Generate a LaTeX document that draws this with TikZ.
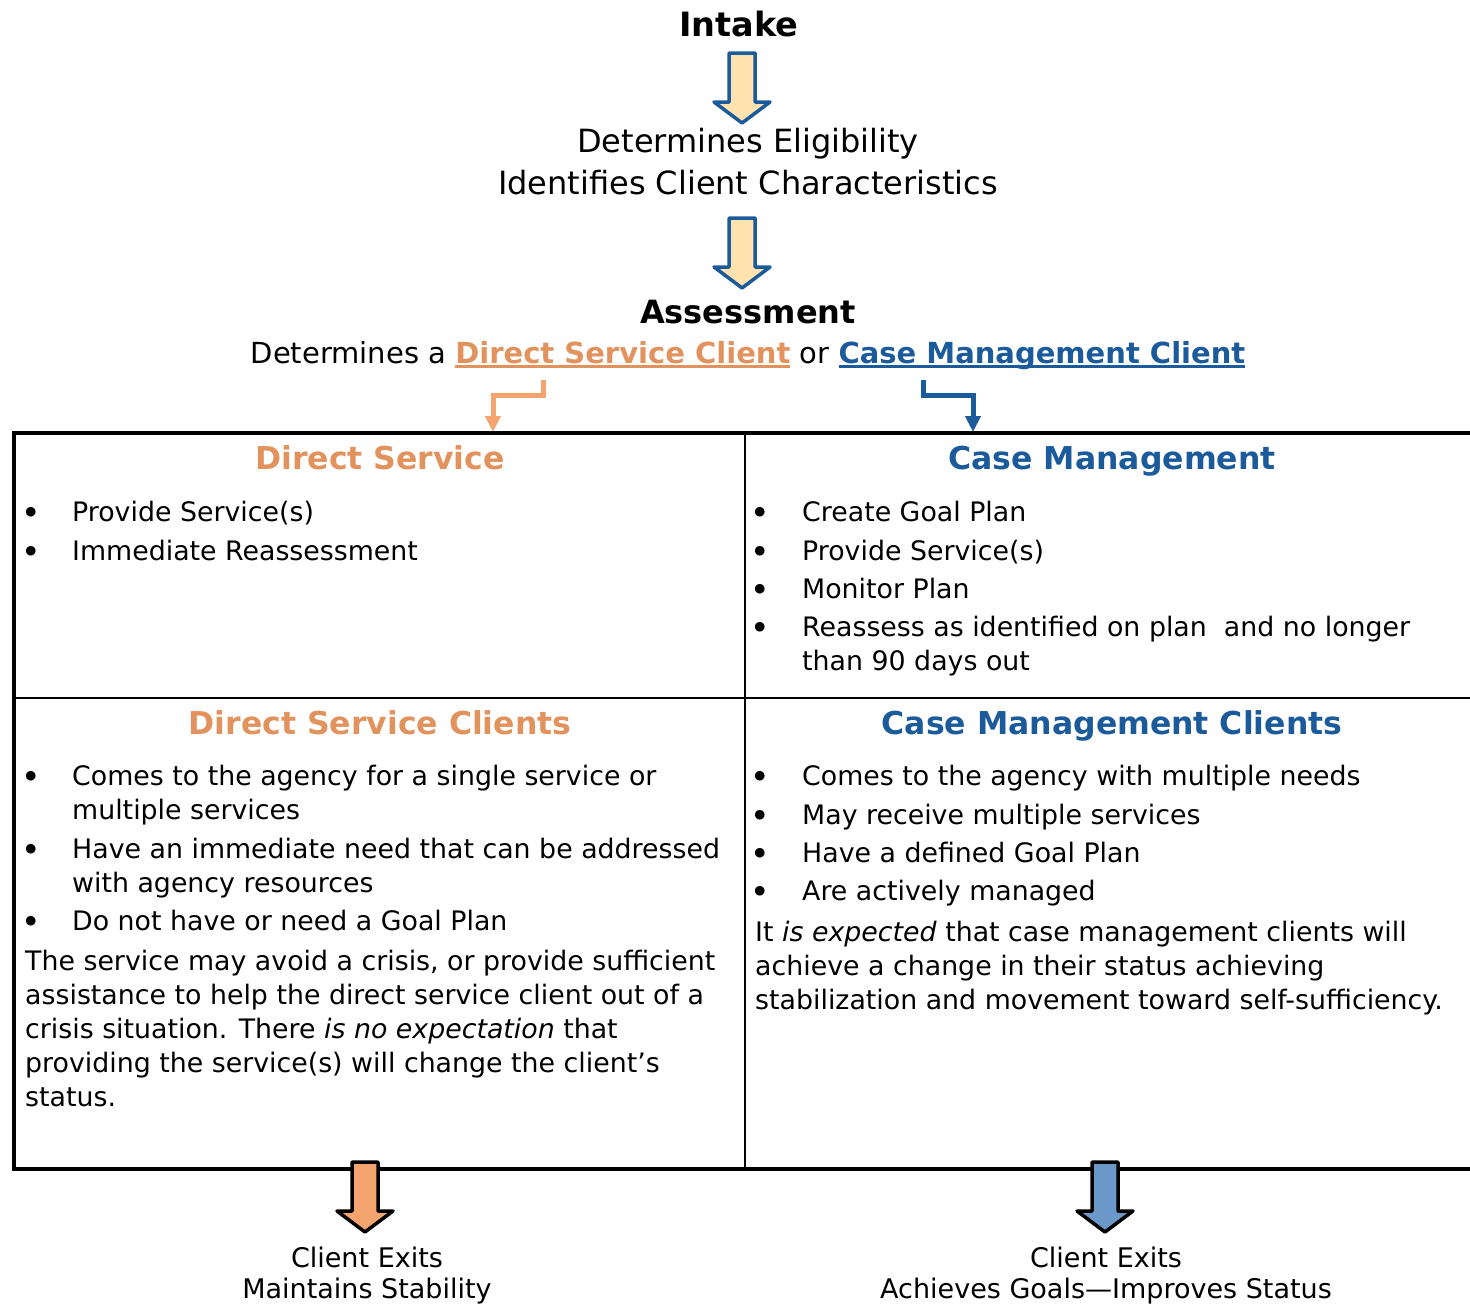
\documentclass[tikz,border=0pt]{standalone}
\usepackage{fontspec}
\setmainfont{DejaVu Sans}
\usetikzlibrary{positioning, calc}
\usetikzlibrary{arrows.meta}
\newcommand{\ulbox}[1]{\setbox0\hbox{#1}\rlap{\rule[-4.5pt]{\wd0}{2.2pt}}\box0}
\definecolor{dsorange}{HTML}{E2925C}
\definecolor{dsarrow}{HTML}{F4A46E}
\definecolor{cmblue}{HTML}{1B5A9B}
\definecolor{cmfill}{HTML}{6A99C9}
\definecolor{peach}{HTML}{FFE2AD}
\tikzstyle{titletext}=[inner sep=0pt, anchor=base, font=\fontsize{33.5}{38}\selectfont\bfseries]
\tikzstyle{leadtext}=[inner sep=0pt, anchor=base, align=center, font=\fontsize{32}{42}\selectfont]
\tikzstyle{headtext}=[inner sep=0pt, anchor=base, font=\fontsize{31.5}{36}\selectfont\bfseries]
\tikzstyle{bodytext}=[inner sep=0pt, anchor=base west, align=left, font=\fontsize{26.8}{34}\selectfont]
\tikzstyle{bulletmark}=[inner sep=0pt, anchor=base, font=\fontsize{33}{34}\selectfont]
\tikzstyle{exittext}=[inner sep=0pt, anchor=base, align=center, font=\fontsize{27}{31}\selectfont]
\tikzstyle{gridline}=[line width=4.5pt]
\tikzstyle{thingrid}=[line width=2.5pt]
\tikzstyle{bentpath}=[line width=5pt, -{Triangle[width=15pt,length=16pt]}]
\tikzstyle{blockarrow}=[line width=3.5pt, line join=round]
\tikzset{downblock/.pic={
    \draw[pic actions] (-13,0) -- (13,0) -- (13,49) -- (28,49) -- (0,70)
        -- (-28,49) -- (-13,49) -- cycle;}}

\begin{document}
\begin{tikzpicture}[x=1pt, y=-1pt]
    \useasboundingbox (0,0) rectangle (1470,1304);

    % intake and assessment (multi-line nodes sit on their last baseline)
    \node[titletext] (intake) at (739,36) {Intake};
    \node[leadtext] (elig) at (748,194) {Determines Eligibility\\Identifies Client Characteristics};
    \node[titletext, font=\fontsize{32}{38}\selectfont\bfseries] (assess) at (748,323) {Assessment};
    \node[inner sep=0pt, anchor=base, font=\fontsize{29}{34}\selectfont] (choice) at (748,363)
        {Determines a \textcolor{dsorange}{\bfseries\ulbox{Direct Service Client}} or
         \textcolor{cmblue}{\bfseries\ulbox{Case Management Client}}};

    \pic[blockarrow, draw=cmblue, fill=peach] at (742,53) {downblock};
    \pic[blockarrow, draw=cmblue, fill=peach] at (742,218) {downblock};

    \coordinate (dsfrom) at (543,380);
    \coordinate (dsto) at (493,432);
    \coordinate (cmfrom) at (923,380);
    \coordinate (cmto) at (973,432);
    \draw[bentpath, dsarrow] (dsfrom) -- ++(0,15) -| (dsto);
    \draw[bentpath, cmblue] (cmfrom) -- ++(0,15) -| (cmto);

    % grid
    \draw[gridline] (12,433) -- (1470,433);
    \draw[gridline] (12,1169) -- (1470,1169);
    \draw[gridline] (14,433) -- (14,1169);
    \draw[thingrid] (745,433) -- (745,1169);
    \draw[thingrid] (14,698) -- (1470,698);

    % headings
    \node[headtext, dsorange] (dshead) at (380,469) {Direct Service};
    \node[headtext, cmblue] (cmhead) at (1112,469) {Case Management};
    \node[headtext, dsorange] (dsclients) at (380,734) {Direct Service Clients};
    \node[headtext, cmblue] (cmclients) at (1112,734) {Case Management Clients};

    % bullets
    \foreach \y in {524,563,788,861,933}
        \node[bulletmark] at (31,\y) {\textbullet};
    \foreach \y in {524,563,601,639,788,827,865,903}
        \node[bulletmark] at (760,\y) {\textbullet};

    % direct service
    \node[bodytext] (dsa) at (72,521) {Provide Service(s)};
    \node[bodytext] (dsb) at (72,560) {Immediate Reassessment};

    % case management
    \node[bodytext] (cma) at (802,521) {Create Goal Plan};
    \node[bodytext] (cmb) at (802,560) {Provide Service(s)};
    \node[bodytext] (cmc) at (802,598) {Monitor Plan};
    \node[bodytext] (cmd) at (802,670) {Reassess as identified on plan\ \ and no longer\\than 90 days out};

    % direct service clients
    \node[bodytext] (dca) at (72,819) {Comes to the agency for a single service or\\multiple services};
    \node[bodytext] (dcb) at (72,892) {Have an immediate need that can be addressed\\with agency resources};
    \node[bodytext] (dcc) at (72,930) {Do not have or need a Goal Plan};
    \node[bodytext] (dcnote) at (25,1106) {The service may avoid a crisis, or provide sufficient\\
        assistance to help the direct service client out of a\\
        crisis situation. There \textit{is no expectation} that\\
        providing the service(s) will change the client’s\\
        status.};

    % case management clients
    \node[bodytext] (cca) at (802,785) {Comes to the agency with multiple needs};
    \node[bodytext] (ccb) at (802,824) {May receive multiple services};
    \node[bodytext] (ccc) at (802,862) {Have a defined Goal Plan};
    \node[bodytext] (ccd) at (802,900) {Are actively managed};
    \node[bodytext] (ccnote) at (755,1009) {It \textit{is expected} that case management clients will\\
        achieve a change in their status achieving\\
        stabilization and movement toward self-sufficiency.};

    % exits
    \pic[blockarrow, draw=black, fill=dsarrow] at (365,1162) {downblock};
    \pic[blockarrow, draw=black, fill=cmfill] at (1105,1162) {downblock};
    \node[exittext] (dsexit) at (367,1298) {Client Exits\\Maintains Stability};
    \node[exittext] (cmexit) at (1106,1298) {Client Exits\\Achieves Goals—Improves Status};
\end{tikzpicture}
\end{document}
